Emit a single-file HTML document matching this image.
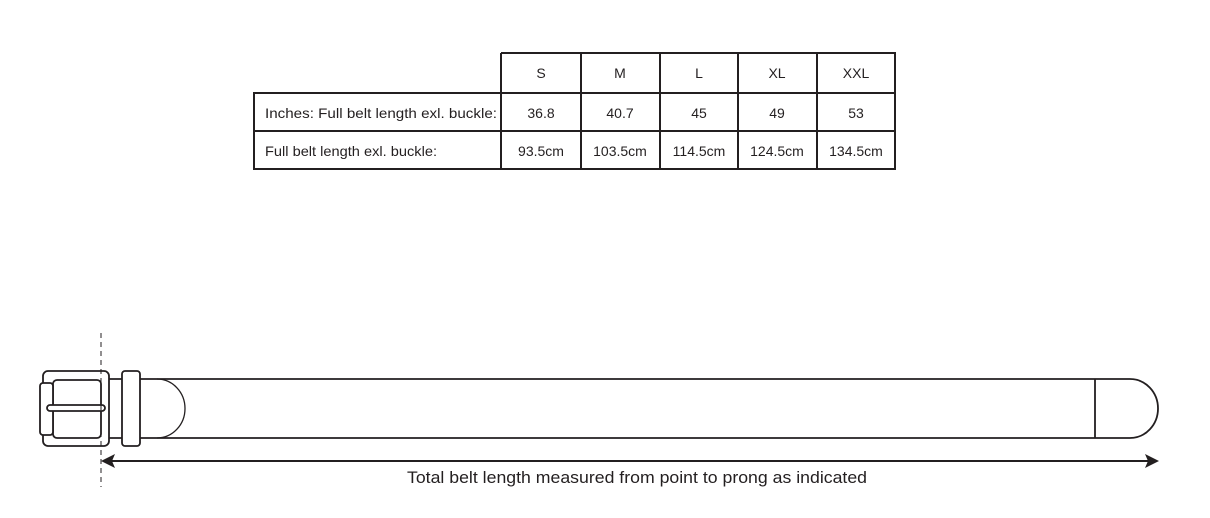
<!DOCTYPE html>
<html><head><style>
body{margin:0;background:#fff;width:1210px;height:518px;overflow:hidden;font-family:"Liberation Sans",sans-serif;}
</style></head><body>
<svg width="1210" height="518" xmlns="http://www.w3.org/2000/svg" style="position:absolute;left:0;top:0">
<g stroke="#231f20" stroke-width="2" fill="none">
<path d="M501 53H895V169H254V93H895M254 131H895M501 53V169M581 53V169M660 53V169M738 53V169M817 53V169M895 53V169"/>
</g>
<g font-size="14" fill="#231f20" text-anchor="middle" font-family="Liberation Sans,sans-serif">
<text x="541" y="78">S</text><text x="620" y="78">M</text><text x="699" y="78">L</text><text x="777" y="78">XL</text><text x="856" y="78">XXL</text>
<text x="541" y="118">36.8</text><text x="620" y="118">40.7</text><text x="699" y="118">45</text><text x="777" y="118">49</text><text x="856" y="118">53</text>
<text x="541" y="156">93.5cm</text><text x="620" y="156">103.5cm</text><text x="699" y="156">114.5cm</text><text x="777" y="156">124.5cm</text><text x="856" y="156">134.5cm</text>
<text x="265" y="118" text-anchor="start" textLength="232" lengthAdjust="spacingAndGlyphs">Inches: Full belt length exl. buckle:</text>
<text x="265" y="156" text-anchor="start" textLength="172" lengthAdjust="spacingAndGlyphs">Full belt length exl. buckle:</text>
</g>
<g stroke="#231f20" stroke-width="1.8" fill="none">
<path d="M109 379H1130M109 438H1130"/>
<path d="M1095 379V438M1130 379A28 29.5 0 0 1 1130 438"/>
<path d="M157 379A28 29.5 0 0 1 157 438" stroke-width="1.3"/>
<rect x="43" y="371" width="66" height="75" rx="5" fill="#fff"/>
<rect x="53" y="380" width="48" height="58" rx="4"/>
<rect x="40" y="383" width="13" height="52" rx="3" fill="#fff"/>
<rect x="47" y="405" width="58" height="6" rx="3" fill="#fff"/>
<rect x="122" y="371" width="18" height="75" rx="3" fill="#fff"/>
<path d="M101 333V487" stroke-width="1" stroke-dasharray="5,4"/>
<path d="M106 461H1153" stroke-width="2"/>
</g>
<path d="M101 461L115 454L112 461L115 468Z M1159 461L1145 454L1148 461L1145 468Z" fill="#231f20"/>
<text x="407" y="483" font-size="17" textLength="460" lengthAdjust="spacingAndGlyphs" fill="#231f20" font-family="Liberation Sans,sans-serif">Total belt length measured from point to prong as indicated</text>
</svg>
</body></html>
